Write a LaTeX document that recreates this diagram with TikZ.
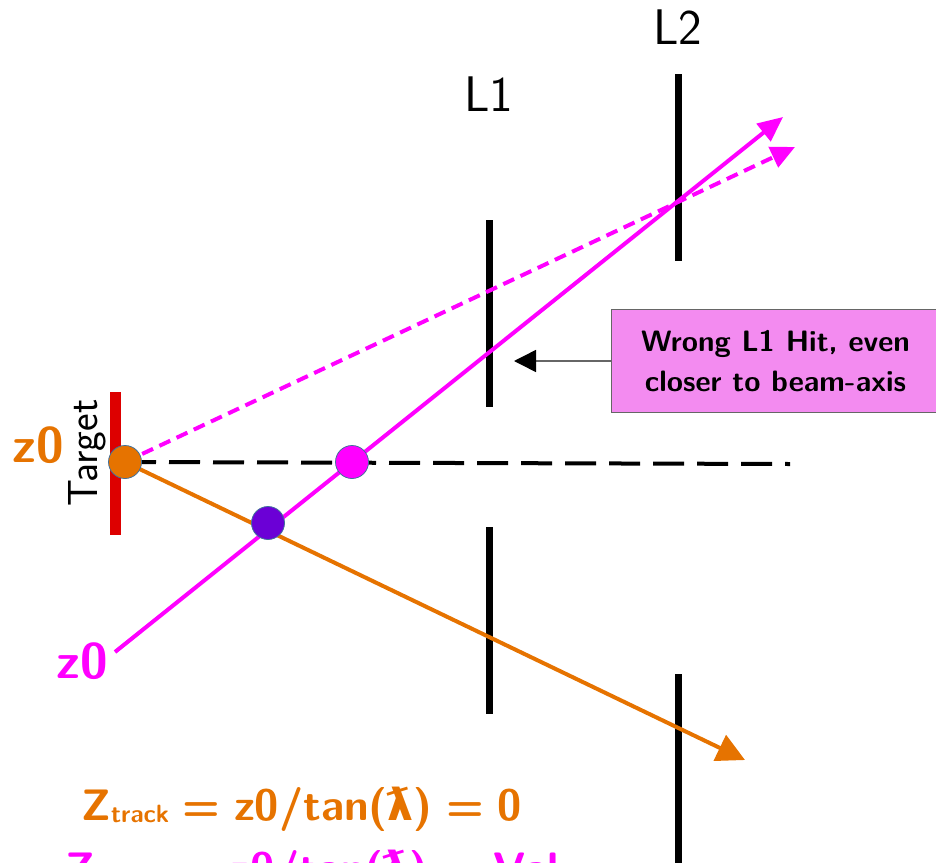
\documentclass[tikz,border=0pt]{standalone}
\usepackage{fontspec}
\newfontfamily\djv{DejaVu Sans}
\renewcommand{\familydefault}{\sfdefault}
\usetikzlibrary{arrows.meta}
\definecolor{mag}{RGB}{255,0,255}
\definecolor{org}{RGB}{230,115,0}
\definecolor{purp}{RGB}{107,0,214}
\definecolor{boxfill}{RGB}{243,139,240}
\definecolor{tred}{RGB}{221,0,0}
\definecolor{rim}{RGB}{65,113,156}
\newcommand{\lam}{{\djv\bfseries ƛ}}
\newcommand{\eqsp}{\hspace{0.31em}}
\begin{document}
\begin{tikzpicture}[x=1pt,y=-1pt,
  det/.style={line width=7pt,black},
  magline/.style={line width=4pt,mag},
  orgline/.style={line width=4pt,org},
  beam/.style={line width=4pt,black,dash pattern=on 31pt off 13pt},
  dot/.style={circle,draw=rim,line width=0.8pt,minimum size=33pt,inner sep=0pt},
  lbl/.style={font=\fontsize{50}{54}\selectfont,anchor=base},
  bigz/.style={font=\bfseries\fontsize{50}{54}\selectfont,anchor=base},
  eq/.style={font=\bfseries\fontsize{44}{48}\selectfont,anchor=base west},
  callbox/.style={draw=black!60,line width=1pt,fill=boxfill,align=center,
    font=\bfseries\fontsize{29.5}{40}\selectfont,minimum width=328pt,minimum height=103pt,anchor=north west}]
\useasboundingbox (0,0) rectangle (936,862);

% coordinates
\coordinate (tgt) at (125,462);
\coordinate (mstart) at (115,652);
\coordinate (msol) at (783,117);
\coordinate (mdash) at (795,147);
\coordinate (oend) at (745,760);
\coordinate (beamend) at (790,464);
\coordinate (bar1) at (115,392);
\coordinate (bar2) at (115,535);
\coordinate (l1a) at (489,220);
\coordinate (l1b) at (489,407);
\coordinate (l1c) at (489,527);
\coordinate (l1d) at (489,714);
\coordinate (l2a) at (678,74);
\coordinate (l2b) at (678,261);
\coordinate (l2c) at (678,674);
\coordinate (l2d) at (678,870);
\coordinate (hit) at (514,361);

% detector layers
\draw[det] (l1a) -- (l1b);
\draw[det] (l1c) -- (l1d);
\draw[det] (l2a) -- (l2b);
\draw[det] (l2c) -- (l2d);

% target
\draw[line width=11pt,tred] (bar1) -- (bar2);

% beam axis
\draw[beam] (tgt) -- (beamend);

% tracks
\draw[magline,dash pattern=on 12pt off 7pt,-{Triangle[length=24pt,width=22pt]}] (tgt) -- (mdash);
\draw[magline,-{Triangle[length=25pt,width=22pt]}] (mstart) -- (msol);
\draw[orgline,-{Triangle[length=28pt,width=28pt]}] (tgt) -- (oend);

% dots
\node[dot,fill=org] (odot) at (tgt) {};
\node[dot,fill=mag] (mdot) at (352,462) {};
\node[dot,fill=purp] (pdot) at (268,523) {};

% labels
\node[lbl] (L1) at (489,111) {L1};
\node[lbl] (L2) at (678,44) {L2};
\node[lbl,font=\fontsize{42}{46}\selectfont,rotate=90] (target) at (97,453) {Target};
\node[bigz,text=org] (z0o) at (38,462) {z0};
\node[bigz,text=mag] (z0m) at (82,678) {z0};

% callout
\node[callbox] (box) at (611,309) {Wrong L1 Hit, even\\closer to beam-axis};
\draw[line width=1.5pt,black!60,-{Triangle[length=22pt,width=22pt,fill=black,color=black]}] (box.west) -- (hit);

% equations
\node[eq,text=org] (eq1) at (78,820) {Z\raisebox{-2pt}{\fontsize{25}{28}\selectfont track}\eqsp=\eqsp z0/tan(\lam)\eqsp=\eqsp 0};
\node[eq,text=mag] (eq2) at (62,883) {Z\raisebox{-2pt}{\fontsize{25}{28}\selectfont vertex}\eqsp=\eqsp z0/tan(\lam)\eqsp=\eqsp Val};
\end{tikzpicture}
\end{document}
